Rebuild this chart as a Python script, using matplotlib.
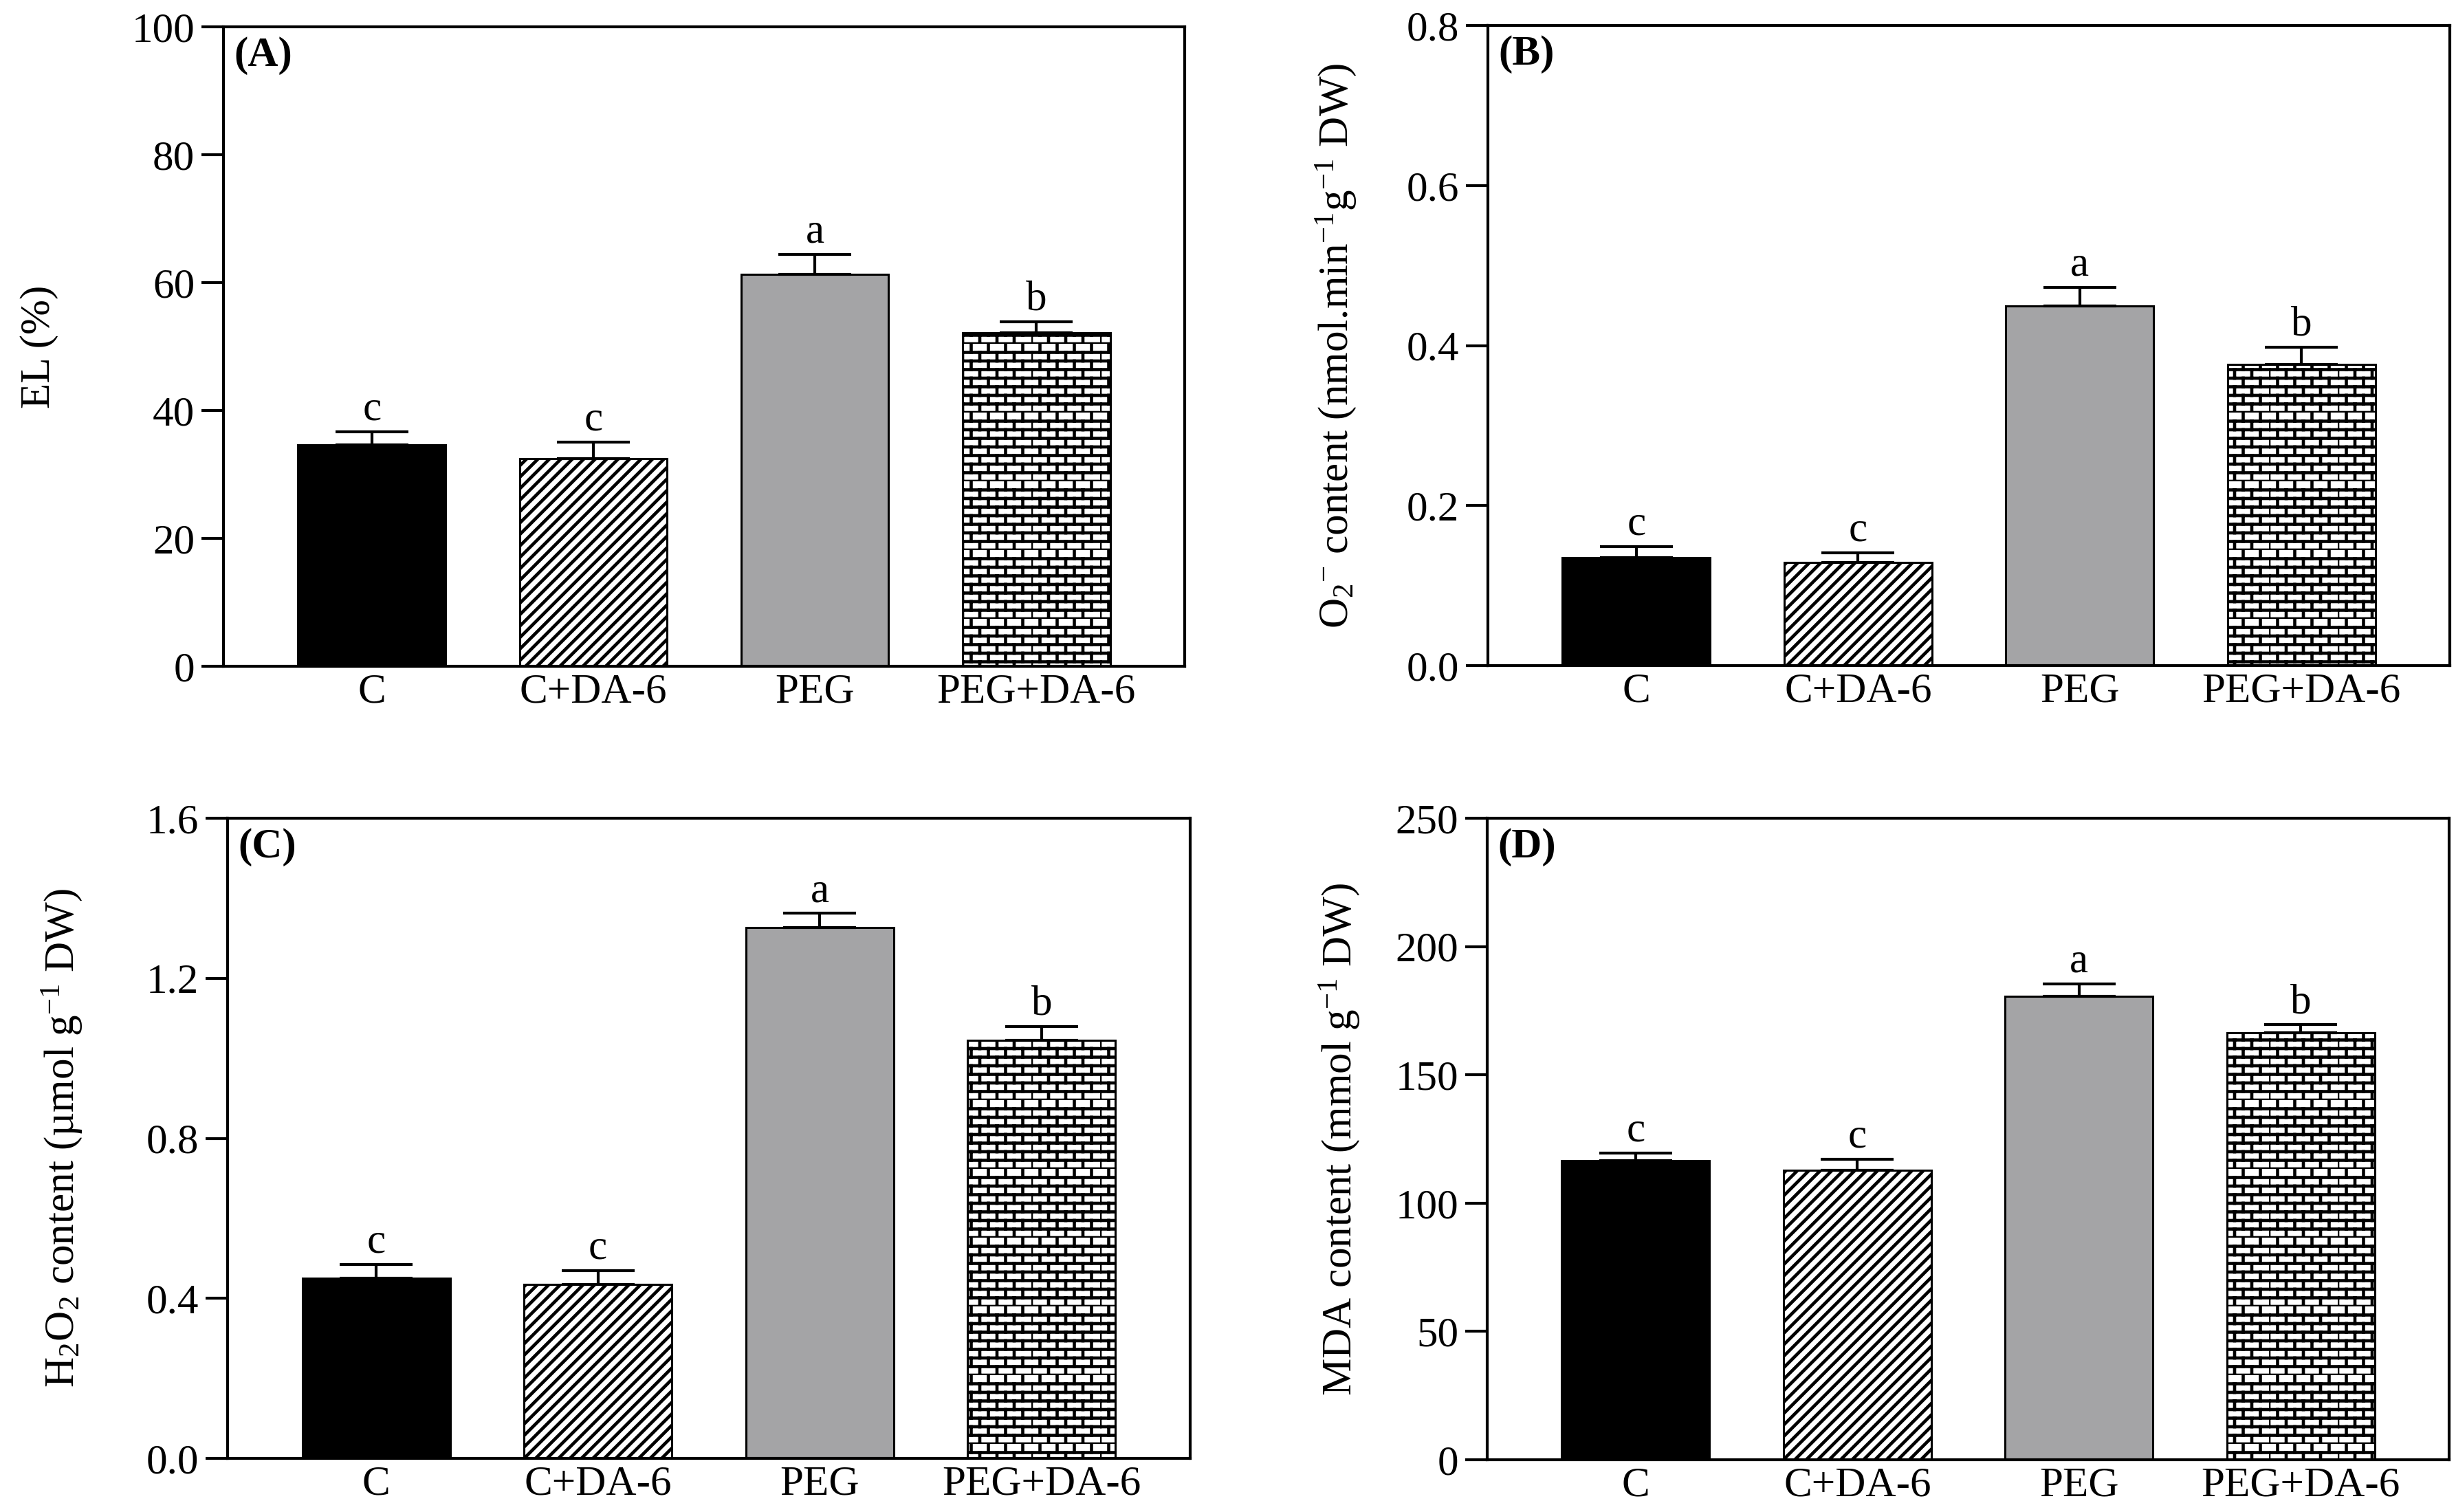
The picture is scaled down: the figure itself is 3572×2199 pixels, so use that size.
import warnings
warnings.filterwarnings('ignore')
import numpy as np
import matplotlib
matplotlib.use('Agg')
import matplotlib.pyplot as plt
from matplotlib import hatch as mhatch
from matplotlib.path import Path

# ---------------- data ----------------
categories = ['C', 'C+DA-6', 'PEG', 'PEG+DA-6']

el_mean = [34.6, 32.5, 61.3, 52.1]
el_err = [2.1, 2.6, 3.1, 1.8]
el_letters = ['c', 'c', 'a', 'b']

o2_mean = [0.135, 0.129, 0.449, 0.376]
o2_err = [0.014, 0.012, 0.024, 0.022]
o2_letters = ['c', 'c', 'a', 'b']

h2o2_mean = [0.450, 0.434, 1.326, 1.045]
h2o2_err = [0.035, 0.035, 0.036, 0.035]
h2o2_letters = ['c', 'c', 'a', 'b']

mda_mean = [116.5, 112.8, 180.5, 166.5]
mda_err = [3.0, 4.2, 4.9, 3.0]
mda_letters = ['c', 'c', 'a', 'b']

el_ticks = [0, 20, 40, 60, 80, 100]
o2_ticks = [0.0, 0.2, 0.4, 0.6, 0.8]
h2o2_ticks = [0.0, 0.4, 0.8, 1.2, 1.6]
mda_ticks = [0, 50, 100, 150, 200, 250]


# ---------------- custom brick hatch ----------------
class BrickHatch(mhatch.HatchPatternBase):
    rows = 8
    cols = 4

    def __init__(self, hatch, density):
        self.n = hatch.count('b')
        if self.n:
            self.num_vertices = (self.rows + self.rows * self.cols) * 2
        else:
            self.num_vertices = 0

    def set_vertices_and_codes(self, vertices, codes):
        verts = []
        for r in range(self.rows):
            y = r / self.rows
            verts += [(0.0, y), (1.0, y)]
        for r in range(self.rows):
            y0 = r / self.rows
            y1 = (r + 1) / self.rows
            off = 0.0 if r % 2 == 0 else 0.5 / self.cols
            for c in range(self.cols):
                xx = c / self.cols + off
                verts += [(xx, y0), (xx, y1)]
        vertices[:] = np.array(verts)
        codes[0::2] = Path.MOVETO
        codes[1::2] = Path.LINETO


mhatch._hatch_types.append(BrickHatch)

# ---------------- style ----------------
plt.rcParams['font.family'] = ['Liberation Serif', 'DejaVu Serif']
plt.rcParams['mathtext.fontset'] = 'custom'
plt.rcParams['mathtext.rm'] = 'Liberation Serif'
plt.rcParams['mathtext.it'] = 'Liberation Serif:italic'
plt.rcParams['mathtext.bf'] = 'Liberation Serif:bold'
plt.rcParams['mathtext.default'] = 'regular'

FS = 44
face = ['black', 'white', '#a4a4a6', 'white']
hatches = [None, '//', None, 'b']
hatch_lw = [1.0, 3.4, 1.0, 3.3]

fig = plt.figure(figsize=(35.73, 21.99), dpi=100)
W, H = 3573, 2199


def rect(l, r, t, b):
    return [l / W, (H - b) / H, (r - l) / W, (b - t) / H]


panels = [
    dict(pos=rect(325, 1723, 39, 969), mean=el_mean, err=el_err, let=el_letters,
         ticks=el_ticks, fmt='{:.0f}', label='EL (%)', tag='(A)', lx=-0.172),
    dict(pos=rect(2164, 3563, 37, 968), mean=o2_mean, err=o2_err, let=o2_letters,
         ticks=o2_ticks, fmt='{:.1f}',
         label=r'O$_2$$^{-}$ content (nmol.min$^{-1}$g$^{-1}$ DW)', tag='(B)', lx=-0.135),
    dict(pos=rect(331, 1731, 1190, 2121), mean=h2o2_mean, err=h2o2_err, let=h2o2_letters,
         ticks=h2o2_ticks, fmt='{:.1f}',
         label='H$_2$O$_2$ content (\u00b5mol g$^{-1}$ DW)', tag='(C)', lx=-0.149),
    dict(pos=rect(2163, 3562, 1190, 2123), mean=mda_mean, err=mda_err, let=mda_letters,
         ticks=mda_ticks, fmt='{:.0f}',
         label='MDA content (mmol g$^{-1}$ DW)', tag='(D)', lx=-0.131),
]

x = np.arange(len(categories))
for p in panels:
    ax = fig.add_axes(p['pos'])
    for i in range(len(categories)):
        with plt.rc_context({'hatch.linewidth': hatch_lw[i]}):
            bars = ax.bar(x[i], p['mean'][i], width=0.667, color=face[i],
                          edgecolor='black', linewidth=2.2, hatch=hatches[i], zorder=2)
            for b in bars:
                if hasattr(b, 'set_hatch_linewidth'):
                    b.set_hatch_linewidth(hatch_lw[i])
    ax.errorbar(x, p['mean'], yerr=[np.zeros(len(x)), p['err']], fmt='none',
                ecolor='black', elinewidth=3, capsize=38, capthick=3, zorder=3)
    for i in range(len(categories)):
        ax.annotate(p['let'][i], (x[i], p['mean'][i] + p['err'][i]),
                    xytext=(0, 12.5), textcoords='offset points',
                    ha='center', va='baseline', fontsize=FS)
    ax.set_xlim(-0.67, 3.67)
    ax.set_ylim(p['ticks'][0], p['ticks'][-1])
    ax.set_yticks(p['ticks'])
    ax.set_yticklabels([p['fmt'].format(t) for t in p['ticks']])
    ax.set_xticks(x)
    ax.set_xticklabels(categories)
    for s in ax.spines.values():
        s.set_linewidth(3)
    ax.tick_params(axis='y', direction='out', length=23, width=3, pad=7, labelsize=FS)
    ax.tick_params(axis='x', length=0, pad=7, labelsize=FS)
    ax.set_ylabel(p['label'], fontsize=FS)
    ax.yaxis.set_label_coords(p['lx'], 0.5)
    ax.text(0.011, 0.985, p['tag'], transform=ax.transAxes, fontsize=FS,
            fontweight='bold', ha='left', va='top')

fig.savefig('out.png', dpi=100, facecolor='white')
